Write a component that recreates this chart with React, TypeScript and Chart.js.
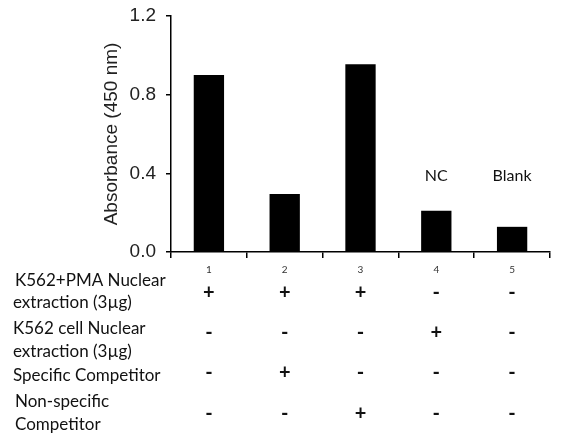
import { useEffect, useRef } from 'react';
import { Chart, registerables, Plugin } from 'chart.js';

Chart.register(...registerables);

const lanes = ['1', '2', '3', '4', '5'];
const absorbance = [0.9, 0.295, 0.955, 0.21, 0.128];
const laneNotes = ['', '', '', 'NC', 'Blank'];
const yTicks = [0, 0.4, 0.8, 1.2];

const rowPmaExtract = ['+', '+', '+', '-', '-'];
const rowCellExtract = ['-', '-', '-', '+', '-'];
const rowSpecific = ['-', '+', '-', '-', '-'];
const rowNonSpecific = ['-', '-', '+', '-', '-'];

const rowLabels = [
  ['K562+PMA Nuclear', 'extraction (3\u00b5g)'],
  ['K562 cell Nuclear', 'extraction (3\u00b5g)'],
  ['Specific Competitor'],
  ['Non-specific', 'Competitor'],
];
const rowSigns = [rowPmaExtract, rowCellExtract, rowSpecific, rowNonSpecific];

const TABLE_FONT = 'Lato, "Open Sans", sans-serif';
const AXIS_FONT = '"Liberation Sans", Arial, sans-serif';

// label lines (y centre, x left) and sign row y centres
const labelLines = [
  [[281, 15], [303, 13]],
  [[329, 13], [352, 13]],
  [[376, 13]],
  [[402, 15], [425, 15]],
];
const signY = [293, 333, 373, 414];

const tablePlugin: Plugin<'bar'> = {
  id: 'conditionTable',
  afterDraw(chart) {
    const { ctx } = chart;
    const x = chart.scales.x;
    const y = chart.scales.y;
    ctx.save();
    ctx.fillStyle = '#111';
    ctx.textBaseline = 'middle';

    // NC / Blank notes above bars
    ctx.font = `16px ${TABLE_FONT}`;
    ctx.textAlign = 'center';
    laneNotes.forEach((note, i) => {
      if (note) ctx.fillText(note, x.getPixelForValue(i), y.getPixelForValue(0.4) + 3);
    });

    // row labels
    ctx.textAlign = 'left';
    ctx.font = `17px ${TABLE_FONT}`;
    rowLabels.forEach((lines, r) => {
      lines.forEach((line, k) => {
        const [ly, lx] = labelLines[r][k];
        ctx.fillText(line, lx, ly);
      });
    });

    // + / - signs under each lane
    ctx.textAlign = 'center';
    ctx.font = `bold 20px ${TABLE_FONT}`;
    rowSigns.forEach((signs, r) => {
      signs.forEach((s, i) => {
        ctx.fillText(s, x.getPixelForValue(i), signY[r]);
      });
    });
    ctx.restore();
  },
};

export default function App() {
  const chartRef = useRef<HTMLCanvasElement>(null);
  const chartInstance = useRef<Chart | null>(null);

  useEffect(() => {
    if (!chartRef.current) return;
    if (chartInstance.current) chartInstance.current.destroy();
    const ctx = chartRef.current.getContext('2d');
    if (!ctx) return;

    chartInstance.current = new Chart(ctx, {
      type: 'bar',
      data: {
        labels: lanes,
        datasets: [
          {
            data: absorbance,
            backgroundColor: '#000',
            borderWidth: 0,
            barPercentage: 0.8,
            categoryPercentage: 0.5,
          },
        ],
      },
      options: {
        animation: false,
        responsive: true,
        maintainAspectRatio: false,
        layout: { padding: { top: 16, right: 13, left: 0, bottom: 0 } },
        plugins: {
          legend: { display: false },
          tooltip: { enabled: false },
        },
        scales: {
          x: {
            afterFit: (scale) => {
              scale.height = 191;
            },
            border: { display: true, color: '#000', width: 1.5 },
            grid: {
              display: true,
              drawOnChartArea: false,
              drawTicks: true,
              tickLength: 6,
              color: '#000',
              lineWidth: 1.5,
            },
            ticks: {
              color: '#333',
              padding: 6,
              font: { family: TABLE_FONT, size: 10 },
            },
          },
          y: {
            min: 0,
            max: 1.2,
            afterFit: (scale) => {
              scale.width = 171;
              scale.paddingTop = 0;
              scale.paddingBottom = 0;
            },
            afterBuildTicks: (scale) => {
              scale.ticks = yTicks.map((v) => ({ value: v }));
            },
            border: { display: true, color: '#000', width: 1.5 },
            grid: {
              display: true,
              drawOnChartArea: false,
              drawTicks: true,
              tickLength: 5,
              color: '#000',
              lineWidth: 1.5,
            },
            ticks: {
              color: '#222',
              padding: 10,
              font: { family: AXIS_FONT, size: 19 },
              callback: (v) => Number(v).toFixed(1),
            },
            title: {
              display: true,
              text: 'Absorbance (450 nm)',
              color: '#222',
              padding: { top: 100, bottom: 0 },
              font: { family: AXIS_FONT, size: 19 },
            },
          },
        },
      },
      plugins: [tablePlugin],
    });

    return () => {
      if (chartInstance.current) {
        chartInstance.current.destroy();
        chartInstance.current = null;
      }
    };
  }, []);

  return (
    <div style={{ position: 'absolute', left: 0, top: 0, width: 563, height: 443, background: '#fff' }}>
      <canvas ref={chartRef} />
    </div>
  );
}
